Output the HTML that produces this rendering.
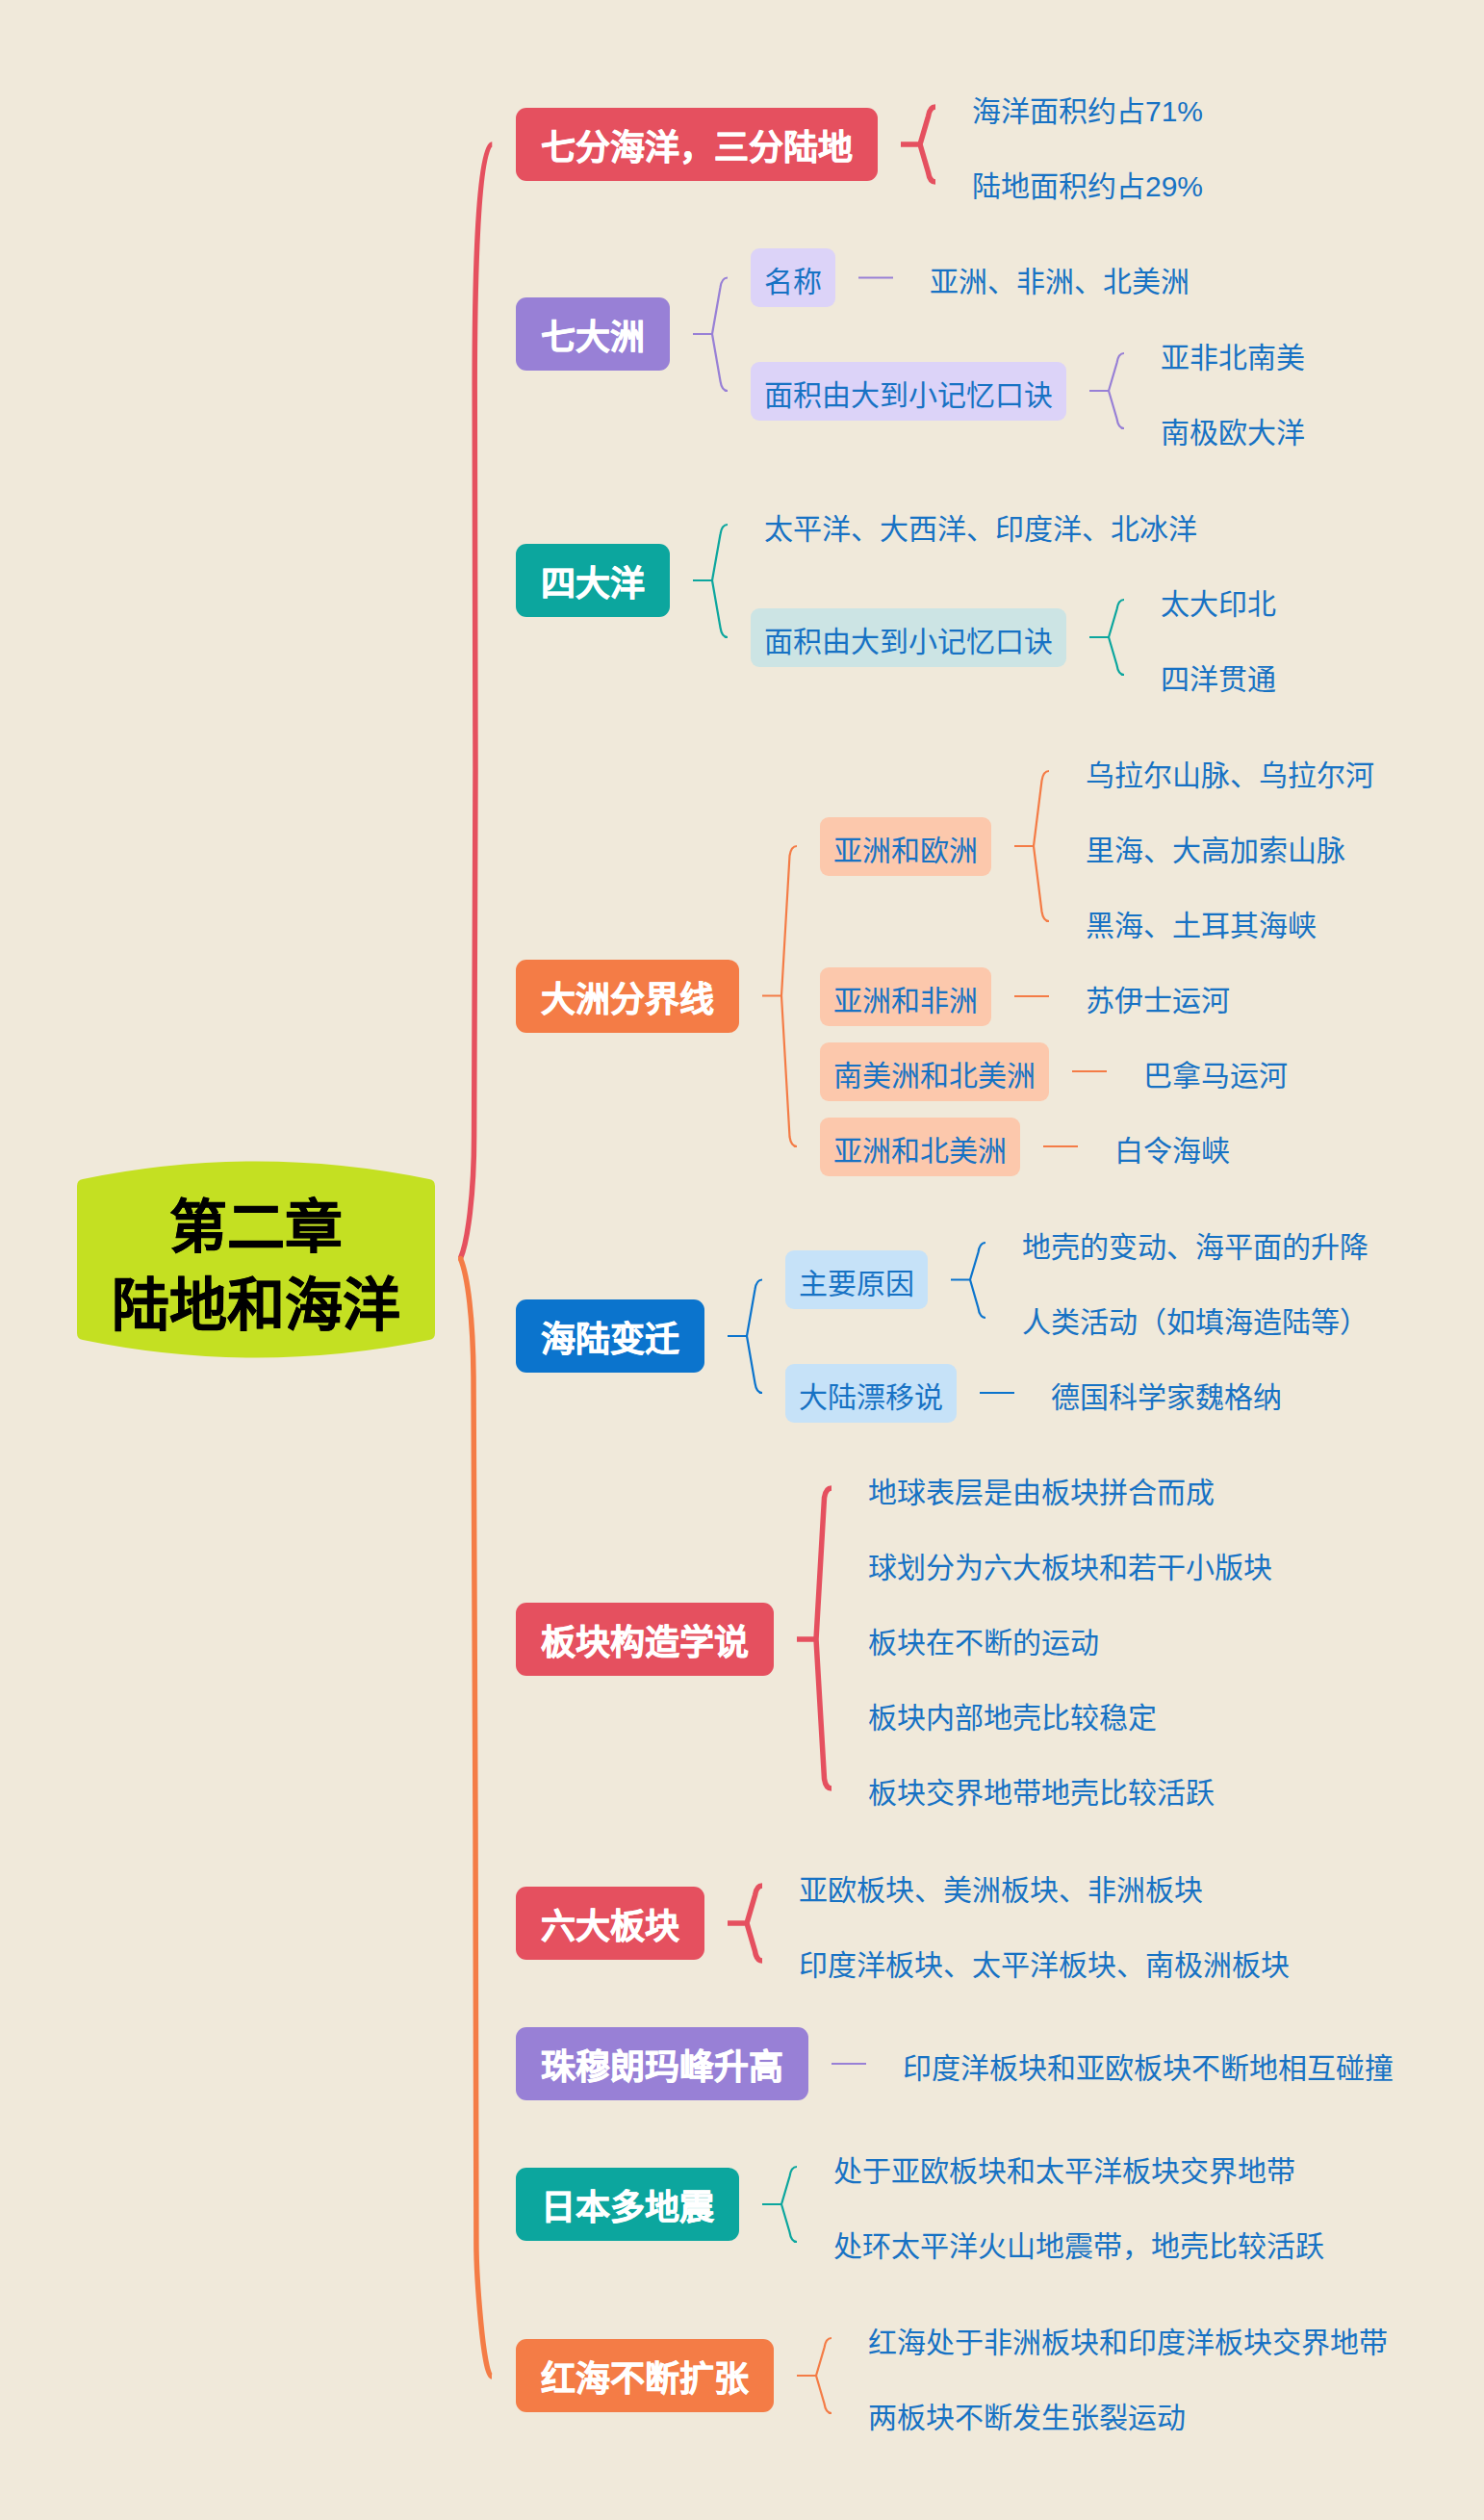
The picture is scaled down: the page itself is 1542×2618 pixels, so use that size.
<!DOCTYPE html>
<html lang="zh-CN"><head><meta charset="utf-8"><style>
html,body{margin:0;padding:0;}
body{width:1542px;height:2618px;background:#f0e9da;position:relative;overflow:hidden;font-family:"Liberation Sans",sans-serif;}
svg{position:absolute;left:0;top:0;}
.l1{position:absolute;left:536px;height:76px;line-height:83px;-webkit-text-stroke:0.6px #fff;color:#fff;font-size:36px;font-weight:bold;text-align:center;border-radius:11px;white-space:nowrap;}
.l2{position:absolute;height:61px;line-height:70px;color:#1772c4;font-size:30px;padding:0 14px;white-space:nowrap;}
.l2.bx{padding:0;text-align:center;border-radius:9px;}
.root{position:absolute;left:80px;width:372px;text-align:center;font-size:60px;font-weight:bold;color:#000;line-height:81px;top:1235px;-webkit-text-stroke:0.4px #000;}
</style></head><body>
<svg width="1542" height="2618" viewBox="0 0 1542 2618">
<path d="M86 1225Q266 1188 446 1225Q452 1226 452 1232V1385Q452 1391 446 1392Q266 1429 86 1392Q80 1391 80 1385V1232Q80 1226 86 1225Z" fill="#c4e022"/>
<path d="M936.0 150.0H956.0M956.0 150.0L964.5 121.0Q966.0 111.0 972.0 111.0M956.0 150.0L964.5 179.0Q966.0 189.0 972.0 189.0" stroke="#e5505f" stroke-width="5.5" fill="none"/><path d="M720.0 347.0H740.0M740.0 347.0L748.5 298.5Q750.0 288.5 756.0 288.5M740.0 347.0L748.5 396.0Q750.0 406.0 756.0 406.0" stroke="#9880d6" stroke-width="2.2" fill="none"/><path d="M892.0 288.5H928.0" stroke="#9880d6" stroke-width="2.2" fill="none"/><path d="M1132.0 406.0H1152.0M1152.0 406.0L1160.5 377.0Q1162.0 367.0 1168.0 367.0M1152.0 406.0L1160.5 435.0Q1162.0 445.0 1168.0 445.0" stroke="#9880d6" stroke-width="2.2" fill="none"/><path d="M720.0 603.0H740.0M740.0 603.0L748.5 555.0Q750.0 545.0 756.0 545.0M740.0 603.0L748.5 652.0Q750.0 662.0 756.0 662.0" stroke="#0ca69e" stroke-width="2.2" fill="none"/><path d="M1132.0 662.0H1152.0M1152.0 662.0L1160.5 633.0Q1162.0 623.0 1168.0 623.0M1152.0 662.0L1160.5 691.0Q1162.0 701.0 1168.0 701.0" stroke="#0ca69e" stroke-width="2.2" fill="none"/><path d="M792.0 1034.5H812.0M812.0 1034.5L820.5 889.0Q822.0 879.0 828.0 879.0M812.0 1034.5L820.5 1181.0Q822.0 1191.0 828.0 1191.0" stroke="#f47c46" stroke-width="2.2" fill="none"/><path d="M1054.0 879.0H1074.0M1074.0 879.0L1082.5 811.0Q1084.0 801.0 1090.0 801.0M1074.0 879.0L1082.5 947.0Q1084.0 957.0 1090.0 957.0" stroke="#f47c46" stroke-width="2.2" fill="none"/><path d="M1054.0 1035.0H1090.0" stroke="#f47c46" stroke-width="2.2" fill="none"/><path d="M1114.0 1113.0H1150.0" stroke="#f47c46" stroke-width="2.2" fill="none"/><path d="M1084.0 1191.0H1120.0" stroke="#f47c46" stroke-width="2.2" fill="none"/><path d="M756.0 1388.0H776.0M776.0 1388.0L784.5 1339.5Q786.0 1329.5 792.0 1329.5M776.0 1388.0L784.5 1437.0Q786.0 1447.0 792.0 1447.0" stroke="#0b74cd" stroke-width="2.2" fill="none"/><path d="M988.0 1329.5H1008.0M1008.0 1329.5L1016.5 1301.0Q1018.0 1291.0 1024.0 1291.0M1008.0 1329.5L1016.5 1359.0Q1018.0 1369.0 1024.0 1369.0" stroke="#0b74cd" stroke-width="2.2" fill="none"/><path d="M1018.0 1447.0H1054.0" stroke="#0b74cd" stroke-width="2.2" fill="none"/><path d="M828.0 1703.0H848.0M848.0 1703.0L856.5 1556.0Q858.0 1546.0 864.0 1546.0M848.0 1703.0L856.5 1848.0Q858.0 1858.0 864.0 1858.0" stroke="#e5505f" stroke-width="5.5" fill="none"/><path d="M756.0 1998.0H776.0M776.0 1998.0L784.5 1969.0Q786.0 1959.0 792.0 1959.0M776.0 1998.0L784.5 2027.0Q786.0 2037.0 792.0 2037.0" stroke="#e5505f" stroke-width="5.5" fill="none"/><path d="M864.0 2144.0H900.0" stroke="#9880d6" stroke-width="2.2" fill="none"/><path d="M792.0 2290.0H812.0M812.0 2290.0L820.5 2261.0Q822.0 2251.0 828.0 2251.0M812.0 2290.0L820.5 2319.0Q822.0 2329.0 828.0 2329.0" stroke="#0ca69e" stroke-width="2.2" fill="none"/><path d="M828.0 2468.0H848.0M848.0 2468.0L856.5 2439.0Q858.0 2429.0 864.0 2429.0M848.0 2468.0L856.5 2497.0Q858.0 2507.0 864.0 2507.0" stroke="#f47c46" stroke-width="2.2" fill="none"/><path d="M478.4 1307.4C486 1290 492.6 1240 492.6 1180L494 800L493.2 400C493.2 315.5 495.3 150 511.3 150" stroke="#e5505f" stroke-width="5.5" fill="none"/><path d="M478.4 1307.4C486 1325 491.5 1370 492 1430L494 1900L494.9 2330C494.9 2362.6 502 2469 511 2469" stroke="#f47c46" stroke-width="5.5" fill="none"/><circle cx="478.6" cy="1307.4" r="2.6" fill="#f47c46"/>
</svg>
<div class="l1" style="top:112.0px;width:376px;background:#e5505f">七分海洋，三分陆地</div><div class="l2" style="left:996.0px;top:80.5px;">海洋面积约占71%</div><div class="l2" style="left:996.0px;top:158.5px;">陆地面积约占29%</div><div class="l1" style="top:309.0px;width:160px;background:#9880d6">七大洲</div><div class="l2 bx" style="left:780.0px;top:258.0px;background:#dcd3f8;width:88px;">名称</div><div class="l2" style="left:952.0px;top:258.0px;">亚洲、非洲、北美洲</div><div class="l2 bx" style="left:780.0px;top:375.5px;background:#dcd3f8;width:328px;">面积由大到小记忆口诀</div><div class="l2" style="left:1192.0px;top:336.5px;">亚非北南美</div><div class="l2" style="left:1192.0px;top:414.5px;">南极欧大洋</div><div class="l1" style="top:565.0px;width:160px;background:#0ca69e">四大洋</div><div class="l2" style="left:780.0px;top:514.5px;">太平洋、大西洋、印度洋、北冰洋</div><div class="l2 bx" style="left:780.0px;top:631.5px;background:#cce4e4;width:328px;">面积由大到小记忆口诀</div><div class="l2" style="left:1192.0px;top:592.5px;">太大印北</div><div class="l2" style="left:1192.0px;top:670.5px;">四洋贯通</div><div class="l1" style="top:996.5px;width:232px;background:#f47c46">大洲分界线</div><div class="l2 bx" style="left:852.0px;top:848.5px;background:#fcc8ac;width:178px;">亚洲和欧洲</div><div class="l2" style="left:1114.0px;top:770.5px;">乌拉尔山脉、乌拉尔河</div><div class="l2" style="left:1114.0px;top:848.5px;">里海、大高加索山脉</div><div class="l2" style="left:1114.0px;top:926.5px;">黑海、土耳其海峡</div><div class="l2 bx" style="left:852.0px;top:1004.5px;background:#fcc8ac;width:178px;">亚洲和非洲</div><div class="l2" style="left:1114.0px;top:1004.5px;">苏伊士运河</div><div class="l2 bx" style="left:852.0px;top:1082.5px;background:#fcc8ac;width:238px;">南美洲和北美洲</div><div class="l2" style="left:1174.0px;top:1082.5px;">巴拿马运河</div><div class="l2 bx" style="left:852.0px;top:1160.5px;background:#fcc8ac;width:208px;">亚洲和北美洲</div><div class="l2" style="left:1144.0px;top:1160.5px;">白令海峡</div><div class="l1" style="top:1350.0px;width:196px;background:#0b74cd">海陆变迁</div><div class="l2 bx" style="left:816.0px;top:1299.0px;background:#c6e2f8;width:148px;">主要原因</div><div class="l2" style="left:1048.0px;top:1260.5px;">地壳的变动、海平面的升降</div><div class="l2" style="left:1048.0px;top:1338.5px;">人类活动（如填海造陆等）</div><div class="l2 bx" style="left:816.0px;top:1416.5px;background:#c6e2f8;width:178px;">大陆漂移说</div><div class="l2" style="left:1078.0px;top:1416.5px;">德国科学家魏格纳</div><div class="l1" style="top:1665.0px;width:268px;background:#e5505f">板块构造学说</div><div class="l2" style="left:888.0px;top:1515.5px;">地球表层是由板块拼合而成</div><div class="l2" style="left:888.0px;top:1593.5px;">球划分为六大板块和若干小版块</div><div class="l2" style="left:888.0px;top:1671.5px;">板块在不断的运动</div><div class="l2" style="left:888.0px;top:1749.5px;">板块内部地壳比较稳定</div><div class="l2" style="left:888.0px;top:1827.5px;">板块交界地带地壳比较活跃</div><div class="l1" style="top:1960.0px;width:196px;background:#e5505f">六大板块</div><div class="l2" style="left:816.0px;top:1928.5px;">亚欧板块、美洲板块、非洲板块</div><div class="l2" style="left:816.0px;top:2006.5px;">印度洋板块、太平洋板块、南极洲板块</div><div class="l1" style="top:2106.0px;width:304px;background:#9880d6">珠穆朗玛峰升高</div><div class="l2" style="left:924.0px;top:2113.5px;">印度洋板块和亚欧板块不断地相互碰撞</div><div class="l1" style="top:2252.0px;width:232px;background:#0ca69e">日本多地震</div><div class="l2" style="left:852.0px;top:2220.5px;">处于亚欧板块和太平洋板块交界地带</div><div class="l2" style="left:852.0px;top:2298.5px;">处环太平洋火山地震带，地壳比较活跃</div><div class="l1" style="top:2430.0px;width:268px;background:#f47c46">红海不断扩张</div><div class="l2" style="left:888.0px;top:2398.5px;">红海处于非洲板块和印度洋板块交界地带</div><div class="l2" style="left:888.0px;top:2476.5px;">两板块不断发生张裂运动</div>
<div class="root">第二章<br>陆地和海洋</div>
</body></html>
